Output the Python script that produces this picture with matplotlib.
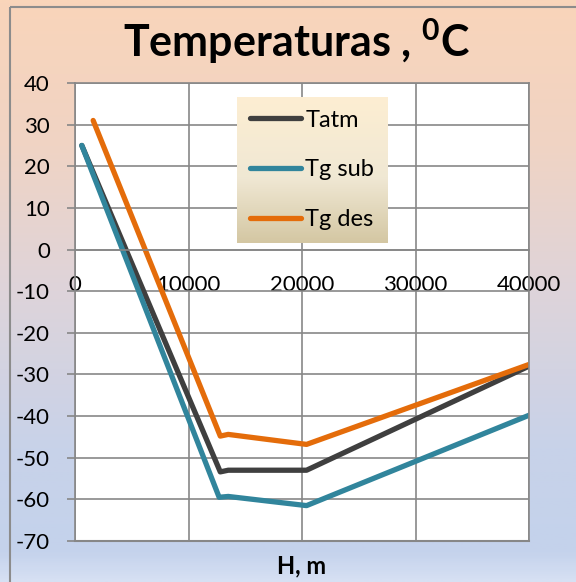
import numpy as np
import matplotlib
matplotlib.use("Agg")
import matplotlib.pyplot as plt
from matplotlib.colors import LinearSegmentedColormap
from matplotlib.patches import Rectangle

plt.rcParams['font.family'] = ['Lato', 'DejaVu Sans']
plt.rcParams['mathtext.fontset'] = 'custom'
plt.rcParams['mathtext.bf'] = 'Lato:bold'
plt.rcParams['mathtext.rm'] = 'Lato'

# altitude (m) and temperature (C) for each series
h_atm = [600, 12800, 13500, 20400, 40000]
t_atm = [25, -53.4, -53.0, -53.0, -28.0]
h_sub = [600, 12700, 13500, 20400, 40000]
t_sub = [25, -59.5, -59.3, -61.5, -39.8]
h_des = [1600, 12800, 13500, 20400, 40000]
t_des = [31, -44.8, -44.4, -46.8, -27.6]
names = ['Tatm', 'Tg sub', 'Tg des']

x_ticks = [0, 10000, 20000, 30000, 40000]
y_ticks = [40, 30, 20, 10, 0, -10, -20, -30, -40, -50, -60, -70]

W, H = 576, 582
fig = plt.figure(figsize=(W / 100, H / 100), dpi=100)

# chart background gradient, peach to blue
bg = fig.add_axes([0, 0, 1, 1])
bg_cmap = LinearSegmentedColormap.from_list('bg', [
    (0.0, (249/255, 213/255, 186/255)),
    (0.25, (240/255, 211/255, 196/255)),
    (0.5, (222/255, 212/255, 218/255)),
    (0.77, (200/255, 210/255, 233/255)),
    (0.95, (196/255, 210/255, 236/255)),
    (1.0, (214/255, 224/255, 243/255))])
grad = np.linspace(0, 1, 300).reshape(-1, 1)
bg.imshow(grad, cmap=bg_cmap, extent=[0, W, H, 0], aspect='auto')
bg.add_patch(Rectangle((10, 7), W, H, fill=False, ec='#8c8c8c', lw=1.5))
bg.set_xlim(0, W)
bg.set_ylim(H, 0)
bg.axis('off')

grid_c = '#878787'
ax = fig.add_axes([75 / W, 1 - 541 / H, (529 - 75) / W, (541 - 83) / H])
ax.set_facecolor('white')
ax.set_axisbelow(True)

style = dict(lw=3.8, solid_joinstyle='round', solid_capstyle='round')
l1, = ax.plot(h_atm, t_atm, color='#3f3f3f', **style)
l2, = ax.plot(h_sub, t_sub, color='#31859c', **style)
l3, = ax.plot(h_des, t_des, color='#e46c0a', **style)

ax.set_xlim(0, 40000)
ax.set_ylim(-70, 40)
ax.set_xticks(x_ticks)
ax.set_yticks(y_ticks)
ax.set_xticklabels([str(v) for v in x_ticks])
ax.set_yticklabels([str(v) for v in y_ticks])
ax.grid(True, color=grid_c, lw=1.2)
ax.axhline(-70, color=grid_c, lw=1.5, clip_on=False)

ax.spines['bottom'].set_position(('data', 0))
for s in ax.spines.values():
    s.set_color(grid_c)
    s.set_linewidth(1.2)
ax.tick_params(axis='y', length=6, width=1.2, color=grid_c, pad=12,
               labelsize=16)
ax.tick_params(axis='x', length=0, pad=18, labelsize=16)

fig.text(296.5 / W, 1 - 57 / H, 'Temperaturas , $^{\\mathbf{0}}$C',
         ha='center', va='baseline', fontsize=31, fontweight='bold')
fig.text(302 / W, 1 - 573 / H, 'H, m', ha='center', va='baseline',
         fontsize=17, fontweight='bold')

# legend box with its own tan gradient
lg = fig.add_axes([237 / W, 1 - 243 / H, (388 - 237) / W, (243 - 97) / H])
lg_cmap = LinearSegmentedColormap.from_list('lg', [
    (0.0, (253/255, 238/255, 210/255)),
    (0.55, (240/255, 232/255, 212/255)),
    (1.0, (212/255, 199/255, 163/255))])
lg.imshow(grad, cmap=lg_cmap, extent=[0, 1, 0, 1], aspect='auto')
lg.set_xlim(0, 1)
lg.set_ylim(0, 1)
lg.axis('off')
lg.legend([l1, l2, l3], names, loc='center left',
          bbox_to_anchor=((250 - 237) / 151, 0.5), frameon=False,
          fontsize=17, handlelength=2.15, handletextpad=0.2,
          labelspacing=1.22, borderpad=0, borderaxespad=0)

fig.savefig('out.png', dpi=100)
